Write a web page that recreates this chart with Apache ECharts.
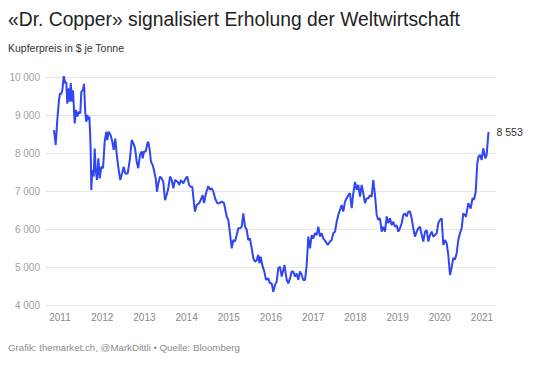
<!DOCTYPE html>
<html>
<head>
<meta charset="utf-8">
<script src="https://cdn.jsdelivr.net/npm/echarts@6/dist/echarts.min.js"></script>
<style>
html,body{margin:0;padding:0;background:#fff;}
#chart{width:540px;height:366px;}
</style>
</head>
<body>
<div id="chart"></div>
<script>
// Dates as decimal years
const years = [
2010.858,2010.898,2010.936,2010.976,2011.000,2011.031,2011.055,2011.088,2011.126,2011.149,
2011.173,2011.206,2011.230,2011.254,2011.284,2011.308,2011.348,2011.379,2011.410,2011.450,
2011.481,2011.505,2011.545,2011.569,2011.600,2011.623,2011.647,2011.671,2011.694,2011.711,
2011.727,2011.742,2011.765,2011.799,2011.822,2011.846,2011.877,2011.908,2011.941,2011.979,
2012.019,2012.059,2012.097,2012.121,2012.154,2012.201,2012.239,2012.273,2012.310,2012.351,
2012.391,2012.429,2012.469,2012.509,2012.547,2012.604,2012.659,2012.699,2012.737,2012.777,
2012.818,2012.855,2012.896,2012.936,2012.960,2012.991,2013.031,2013.069,2013.092,2013.126,
2013.156,2013.197,2013.227,2013.268,2013.299,2013.329,2013.370,2013.410,2013.448,2013.488,
2013.528,2013.566,2013.607,2013.647,2013.685,2013.725,2013.789,2013.827,2013.867,2013.922,
2013.979,2014.017,2014.057,2014.097,2014.135,2014.175,2014.199,2014.239,2014.294,2014.318,
2014.382,2014.412,2014.460,2014.514,2014.555,2014.595,2014.633,2014.673,2014.727,2014.775,
2014.832,2014.886,2014.927,2014.950,2014.988,2015.028,2015.069,2015.107,2015.147,2015.187,
2015.225,2015.265,2015.306,2015.344,2015.384,2015.424,2015.462,2015.502,2015.543,2015.581,
2015.621,2015.661,2015.699,2015.723,2015.756,2015.794,2015.841,2015.882,2015.936,2015.976,
2016.017,2016.055,2016.095,2016.135,2016.173,2016.213,2016.254,2016.292,2016.320,2016.372,
2016.410,2016.450,2016.491,2016.528,2016.569,2016.609,2016.647,2016.687,2016.727,2016.765,
2016.806,2016.846,2016.884,2016.924,2016.964,2017.002,2017.043,2017.083,2017.121,2017.161,
2017.201,2017.239,2017.296,2017.344,2017.398,2017.438,2017.476,2017.517,2017.557,2017.595,
2017.635,2017.675,2017.713,2017.754,2017.794,2017.832,2017.872,2017.912,2017.950,2017.991,
2018.031,2018.069,2018.109,2018.149,2018.187,2018.227,2018.268,2018.306,2018.346,2018.386,
2018.424,2018.464,2018.505,2018.543,2018.583,2018.623,2018.661,2018.701,2018.742,2018.780,
2018.820,2018.860,2018.898,2018.938,2018.979,2019.017,2019.057,2019.097,2019.135,2019.175,
2019.216,2019.254,2019.294,2019.334,2019.372,2019.412,2019.453,2019.491,2019.531,2019.571,
2019.609,2019.649,2019.690,2019.728,2019.768,2019.808,2019.846,2019.886,2019.927,2019.964,
2020.005,2020.045,2020.083,2020.123,2020.164,2020.201,2020.242,2020.282,2020.320,2020.360,
2020.400,2020.438,2020.479,2020.519,2020.557,2020.597,2020.621,2020.675,2020.732,2020.775,
2020.810,2020.851,2020.889,2020.917,2020.953,2020.993,2021.031,2021.078,2021.111,2021.154
];
// Copper price, $ per tonne
const prices = [
8600,8210,8870,9400,9570,9550,9650,10030,9830,9870,
9300,9700,9350,9840,9350,9650,8780,9130,8960,9090,
9040,9610,9660,9820,9040,8820,9000,8870,8960,8600,
8080,7030,7550,7380,8120,7550,7290,7860,7330,7640,
7600,8300,8560,8340,8560,8470,8300,8080,8380,7900,
7550,7290,7460,7640,7460,7460,7860,8340,8260,8130,
7770,7600,7950,8040,7860,8040,8040,8250,8300,8080,
7770,7680,7550,7330,6980,7200,7380,7330,7240,6760,
6900,7070,7380,7290,7070,7290,7240,7160,7290,7200,
7330,7380,7160,7110,7110,6680,6460,6630,6680,6720,
6890,6680,6940,7130,7030,7070,6990,6810,6680,6680,
6720,6680,6460,6330,6240,5890,5490,5710,5670,5840,
6020,6020,6060,6410,6060,5980,5710,5750,5490,5230,
5140,5180,5320,5100,5270,5050,4880,4660,4700,4570,
4570,4350,4530,4620,4970,5010,4750,4920,5050,4660,
4570,4700,4880,4880,4750,4830,4660,4880,4790,4660,
4660,5050,5800,5490,5840,5750,5890,5840,6060,5800,
5890,5750,5670,5580,5670,5710,5890,5930,6190,6370,
6500,6630,6460,6720,6810,6890,6940,6550,6940,7240,
7030,7160,6850,7160,6940,6680,6810,6810,6890,6850,
7290,6890,6370,6240,6280,5930,6060,5930,6330,6150,
6280,6100,6190,6060,6100,5930,6020,6150,6370,6410,
6330,6460,6460,6280,6020,5800,5930,6020,6060,5840,
5670,5930,5970,5670,5840,5930,5800,5840,5890,6150,
6240,6280,5580,5710,5620,5320,4790,5000,5240,5200,
5360,5710,5890,6020,6410,6370,6320,6680,6540,6810,
6770,6980,7730,7900,7950,7820,8120,7860,7950,8553
];
const yearTicks = [2011,2012,2013,2014,2015,2016,2017,2018,2019,2020,2021];
const titleText = '«Dr. Copper» signalisiert Erholung der Weltwirtschaft';
const subtitleText = 'Kupferpreis in $ je Tonne';
const footerText = 'Grafik: themarket.ch, @MarkDittli • Quelle: Bloomberg';
const lastLabel = '8 553';

const fmt = v => String(v).replace(/\B(?=(\d{3})+(?!\d))/g, ' ');
const seriesData = years.map((y, i) => [y, prices[i]]);
const FONT = '"Liberation Sans", Arial, Helvetica, sans-serif';

const chart = echarts.init(document.getElementById('chart'), null, {renderer: 'svg'});
chart.setOption({
  animation: false,
  backgroundColor: '#ffffff',
  textStyle: {fontFamily: FONT},
  graphic: [
    {type: 'text', left: 8, top: 10, style: {text: titleText, fontSize: 19.3, fill: '#222222', fontFamily: FONT}},
    {type: 'text', left: 8, top: 42, style: {text: subtitleText, fontSize: 10.5, fill: '#333333', fontFamily: FONT}},
    {type: 'text', left: 8, top: 342, style: {text: footerText, fontSize: 9.7, fill: '#8c8c8c', fontFamily: FONT}}
  ],
  grid: {left: 45, right: 44, top: 77, bottom: 61, containLabel: false},
  xAxis: {
    type: 'value',
    min: 2010.6445,
    max: 2021.332,
    axisLine: {show: false},
    axisTick: {show: false},
    splitLine: {show: false},
    axisLabel: {
      customValues: yearTicks,
      formatter: v => String(Math.round(v)),
      color: '#8a8a8a', fontSize: 10, margin: 7, fontFamily: FONT
    }
  },
  yAxis: {
    type: 'value',
    min: 4000, max: 10000, interval: 1000,
    axisLine: {show: false},
    axisTick: {show: false},
    splitLine: {lineStyle: {color: '#e6e6e6', width: 1}},
    axisLabel: {formatter: v => fmt(v), color: '#a0a0a0', fontSize: 10, margin: 5, fontFamily: FONT}
  },
  series: [{
    type: 'line',
    data: seriesData,
    showSymbol: false,
    symbol: 'none',
    lineStyle: {color: '#2f46f2', width: 2},
    itemStyle: {color: '#2f46f2'},
    endLabel: {show: true, formatter: () => lastLabel, color: '#333333', fontSize: 10.5, distance: 8, fontFamily: FONT}
  }]
});
</script>
</body>
</html>
